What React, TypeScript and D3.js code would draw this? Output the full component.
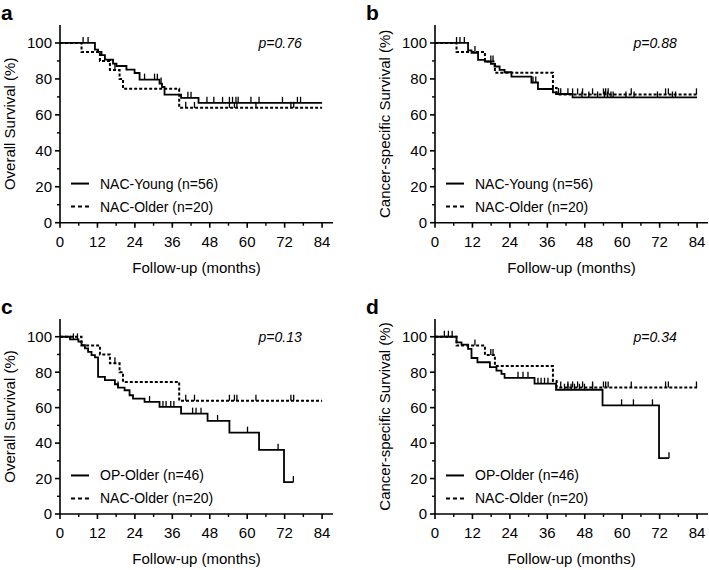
import React from 'react';
import * as d3 from 'd3';

// axis ticks
const xTicks = [0, 12, 24, 36, 48, 60, 72, 84];
const xMinorTicks = [6, 18, 30, 42, 54, 66, 78];
const yTicks = [0, 20, 40, 60, 80, 100];
const yMinorTicks = [10, 30, 50, 70, 90];

// Kaplan-Meier steps: [month, survival %]
const youngOsSteps: [number, number][] = [
    [0, 100], [11.2, 96.3], [12.2, 95], [13.3, 93.2], [14.4, 90.7], [17, 88.5], [18.1, 87.2],
    [21.3, 85.2], [23.9, 83.3], [25.5, 79.6], [31.9, 77.4], [32.7, 75.5], [33.5, 71.3],
    [38.8, 69.5], [44.4, 66.7],
];
const youngOsCensor = [7.4, 9.0, 27.1, 30.3, 31.2, 32.4, 41, 42, 47.1, 49.3, 52.1, 54.3, 55.3, 56.4, 57.1, 61.2, 63.8, 71.3, 76.1, 77.1];

const nacOlderOsSteps: [number, number][] = [
    [0, 100], [6.9, 95], [12.8, 90], [16, 85], [19.1, 80], [20.2, 74.5], [38.2, 63.9],
];
const nacOlderOsCensor = [17.6, 40.3, 43.1, 54.3, 55.9, 56.7, 62.8, 74, 74.9];

const youngCssSteps: [number, number][] = [
    [0, 100], [10.6, 95.9], [11.7, 94.5], [13.8, 90.6], [16, 89.7], [17.9, 88.4], [19.1, 86.9],
    [20.7, 85], [22.3, 83.7], [24.5, 81.3], [30.9, 78], [33, 74.4], [37.8, 72.5], [38.8, 71.6],
    [44.1, 69.7],
];
const youngCssCensor = [6.9, 8, 9.4, 31.4, 32.3, 39.6, 47.1, 49.3, 52.1, 54.3, 55.3, 56.4, 57.1, 61.2, 63.8, 71.3, 76.1, 77.1];

const nacOlderCssSteps: [number, number][] = [
    [0, 100], [6.9, 95], [16, 89.7], [19.2, 83.5], [37.8, 75], [39, 71.4],
];
const nacOlderCssCensor = [12.8, 17.9, 18.6, 40.3, 42.6, 44.1, 45.7, 47.3, 50.5, 54, 54.7, 55.5, 62.9, 73.9, 74.8, 83.8];

const opOsSteps: [number, number][] = [
    [0, 100], [3.2, 98.5], [5.9, 97.2], [6.9, 95.3], [8, 93.4], [9, 91.5], [10.1, 89.6], [11.2, 88.3],
    [12.2, 77.4], [14.4, 75.5], [17.6, 73.2], [18.6, 71.3], [20.7, 69.8], [22.3, 67], [23.4, 65.1],
    [27.1, 63.2], [31.9, 60.4], [38.8, 56.6], [47.3, 52.5], [54.3, 45.9], [63.8, 36.2], [71.8, 18],
];
const opOsCensor = [4.3, 5.6, 18.6, 28.7, 33, 34, 35.5, 36.5, 42.5, 43.6, 45.2, 50.5, 60.1, 69.9, 74.8];

const opCssSteps: [number, number][] = [
    [0, 100], [6.9, 96.8], [8.5, 95.5], [10.6, 93.1], [11.7, 88], [13.6, 85.6], [17.6, 82.8],
    [19.7, 80.9], [21.3, 79.1], [22.3, 76.8], [31.9, 73.5], [38.8, 70.1], [53.7, 61.3], [71.8, 31.5],
];
const opCssCensor = [3, 4.3, 5.5, 26.6, 28.2, 29.8, 33, 34, 35.1, 36.2, 41.5, 42.6, 43.6, 44.7, 46.3, 47.9, 50.5, 59.8, 63.6, 69.7, 75];

const font = '"Liberation Sans", Arial, Helvetica, sans-serif';

type Series = {
    label: string;
    steps: [number, number][];
    censored: number[];
    end: number;
    dashed: boolean;
};

const valueAt = (steps: [number, number][], t: number) => {
    let v = steps[0][1];
    for (const [m, s] of steps) if (m <= t) v = s;
    return v;
};

function KMPanel({ left, top, bottom, letter, letterX, yTitle, pLabel, series }: {
    left: number; top: number; bottom: number; letter: string; letterX: number;
    yTitle: string; pLabel: string; series: Series[];
}) {
    const xScale = d3.scaleLinear().domain([0, 87.5]).range([left, left + 273]);
    const yScale = d3.scaleLinear().domain([0, 110]).range([bottom, top]);

    const line = d3.line<[number, number]>()
        .x(d => xScale(d[0]))
        .y(d => yScale(d[1]))
        .curve(d3.curveStepAfter);

    const midY = (yScale(0) + yScale(110)) / 2;
    const midX = (xScale(0) + xScale(87.5)) / 2;

    return (
        <g fontFamily={font} fill="#000">
            <text x={letterX} y={top - 5} fontSize="21" fontWeight="bold">{letter}</text>

            {/* Y axis */}
            <line x1={left} x2={left} y1={yScale(0)} y2={yScale(110)} stroke="#000" strokeWidth="1.6" />
            {yTicks.map(t => (
                <g key={t}>
                    <line x1={left - 5} x2={left} y1={yScale(t)} y2={yScale(t)} stroke="#000" strokeWidth="1.6" />
                    <text x={left - 8} y={yScale(t)} dy="0.36em" textAnchor="end" fontSize="15">{t}</text>
                </g>
            ))}
            {yMinorTicks.map(t => (
                <line key={t} x1={left - 3} x2={left} y1={yScale(t)} y2={yScale(t)} stroke="#000" strokeWidth="1.4" />
            ))}
            <text transform={`translate(${left - 50}, ${midY}) rotate(-90)`} textAnchor="middle" dy="0.36em" fontSize="15">
                {yTitle}
            </text>

            {/* X axis */}
            <line x1={xScale(0)} x2={xScale(87.5)} y1={bottom} y2={bottom} stroke="#000" strokeWidth="1.6" />
            {xTicks.map(t => (
                <g key={t}>
                    <line x1={xScale(t)} x2={xScale(t)} y1={bottom} y2={bottom + 5} stroke="#000" strokeWidth="1.6" />
                    <text x={xScale(t)} y={bottom + 24} textAnchor="middle" fontSize="15">{t}</text>
                </g>
            ))}
            {xMinorTicks.map(t => (
                <line key={t} x1={xScale(t)} x2={xScale(t)} y1={bottom} y2={bottom + 3} stroke="#000" strokeWidth="1.4" />
            ))}
            <text x={midX} y={bottom + 50} textAnchor="middle" fontSize="15">Follow-up (months)</text>

            {/* survival curves */}
            {series.map(s => {
                const last = s.steps[s.steps.length - 1][1];
                const pts: [number, number][] = [...s.steps, [s.end, last]];
                return (
                    <g key={s.label}>
                        <path
                            d={line(pts) || ''}
                            fill="none"
                            stroke="#000"
                            strokeWidth={s.dashed ? 2 : 1.8}
                            strokeDasharray={s.dashed ? '3,2' : undefined}
                        />
                        {s.censored.map((c, i) => (
                            <line
                                key={i}
                                x1={xScale(c)}
                                x2={xScale(c)}
                                y1={yScale(valueAt(s.steps, c))}
                                y2={yScale(valueAt(s.steps, c)) - 6}
                                stroke="#000"
                                strokeWidth="1.3"
                            />
                        ))}
                    </g>
                );
            })}

            <text x={xScale(77.5)} y={yScale(100) + 5} textAnchor="end" fontSize="14" fontStyle="italic">{pLabel}</text>

            {/* legend */}
            {series.map((s, i) => {
                const ly = yScale(24) + 4 + i * 23;
                return (
                    <g key={s.label}>
                        <line
                            x1={left + 11}
                            x2={left + 29}
                            y1={ly}
                            y2={ly}
                            stroke="#000"
                            strokeWidth="2"
                            strokeDasharray={s.dashed ? '4,3' : undefined}
                        />
                        <text x={left + 40} y={ly} dy="0.36em" fontSize="14">{s.label}</text>
                    </g>
                );
            })}
        </g>
    );
}

export default function App() {
    const young = 'NAC-Young (n=56)';
    const older = 'NAC-Older (n=20)';
    const op = 'OP-Older (n=46)';

    return (
        <div style={{ position: 'absolute', left: 0, top: 0 }}>
            <svg width={709} height={570} style={{ display: 'block', background: '#fff' }}>
                <KMPanel
                    left={60} top={25} bottom={222.7} letter="a" letterX={1} yTitle="Overall Survival (%)" pLabel="p=0.76"
                    series={[
                        { label: young, steps: youngOsSteps, censored: youngOsCensor, end: 84, dashed: false },
                        { label: older, steps: nacOlderOsSteps, censored: nacOlderOsCensor, end: 84, dashed: true },
                    ]}
                />
                <KMPanel
                    left={435} top={25} bottom={222.7} letter="b" letterX={366} yTitle="Cancer-specific Survival (%)" pLabel="p=0.88"
                    series={[
                        { label: young, steps: youngCssSteps, censored: youngCssCensor, end: 84, dashed: false },
                        { label: older, steps: nacOlderCssSteps, censored: nacOlderCssCensor, end: 84, dashed: true },
                    ]}
                />
                <KMPanel
                    left={60} top={319} bottom={514} letter="c" letterX={1} yTitle="Overall Survival (%)" pLabel="p=0.13"
                    series={[
                        { label: op, steps: opOsSteps, censored: opOsCensor, end: 74.8, dashed: false },
                        { label: older, steps: nacOlderOsSteps, censored: nacOlderOsCensor, end: 84, dashed: true },
                    ]}
                />
                <KMPanel
                    left={435} top={319} bottom={514} letter="d" letterX={366} yTitle="Cancer-specific Survival (%)" pLabel="p=0.34"
                    series={[
                        { label: op, steps: opCssSteps, censored: opCssCensor, end: 75, dashed: false },
                        { label: older, steps: nacOlderCssSteps, censored: nacOlderCssCensor, end: 84, dashed: true },
                    ]}
                />
            </svg>
        </div>
    );
}
